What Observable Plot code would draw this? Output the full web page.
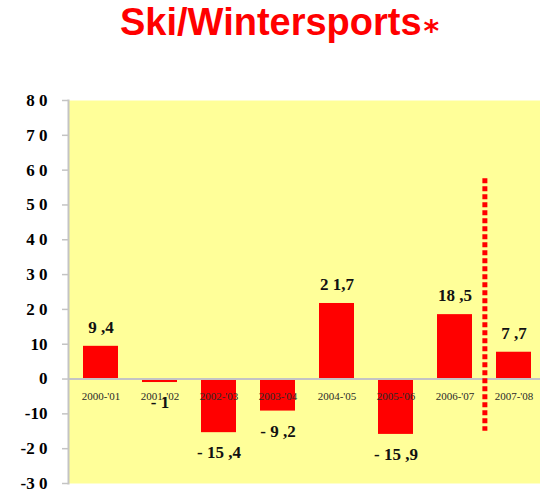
<!DOCTYPE html>
<html>
<head>
<meta charset="utf-8">
<script src="https://cdn.jsdelivr.net/npm/d3@7"></script>
<script src="https://cdn.jsdelivr.net/npm/@observablehq/plot@0.6"></script>
<style>
  html, body { margin: 0; padding: 0; background: #fff; overflow: hidden; width: 540px; height: 491px; }
  #title { height: 60px; position: relative; font-family: "Liberation Sans", Arial, sans-serif; font-weight: bold; color: #ff0000; }
  #title .main { position: absolute; left: 120px; top: 2px; font-size: 38px; line-height: 40px; white-space: nowrap; }
  #title .star { font-family: "DejaVu Sans", sans-serif; font-size: 30px; vertical-align: -6px; margin-left: 2px; }
</style>
</head>
<body>
<div id="title"><span class="main">Ski/Wintersports<span class="star">*</span></span></div>
<div id="chart"></div>
<script>
const seasons = ["2000-'01", "2001-'02", "2002-'03", "2003-'04", "2004-'05", "2005-'06", "2006-'07", "2007-'08"];
const values = [9.4, -1, -15.4, -9.2, 21.7, -15.9, 18.5, 7.7];
const valueLabels = ["9 ,4", "- 1", "- 15 ,4", "- 9 ,2", "2 1,7", "- 15 ,9", "18 ,5", "7 ,7"];
const yTicks = [-30, -20, -10, 0, 10, 20, 30, 40, 50, 60, 70, 80];
const yTickLabels = ["-3 0", "-2 0", "-10", "0", "10", "2 0", "3 0", "4 0", "5 0", "6 0", "7 0", "8 0"];
const dividerAfter = ["2006-'07"];
const dividerTop = 57.5;
const dividerBottom = -15;

const data = seasons.map((s, i) => ({season: s, value: values[i], label: valueLabels[i]}));
const serif = "'Liberation Serif', 'Times New Roman', serif";

const width = 540, marginLeft = 68, marginRight = -6;
const step = (width - marginRight - marginLeft) / seasons.length;

const chart = Plot.plot({
  width,
  height: 431,
  marginTop: 40,
  marginBottom: 8,
  marginLeft,
  marginRight,
  style: {background: "transparent", overflow: "visible"},
  x: {domain: seasons, paddingInner: 0.41, paddingOuter: 0.205, axis: null},
  y: {domain: [-30, 80], axis: null},
  marks: [
    Plot.frame({fill: "#ffff99", stroke: null}),
    Plot.frame({anchor: "left", stroke: "#c4c4c4", strokeWidth: 2}),
    Plot.axisY({
      ticks: yTicks,
      tickFormat: d => yTickLabels[yTicks.indexOf(d)],
      tickSize: 6,
      tickPadding: 15,
      stroke: "#c4c4c4",
      strokeWidth: 1.5,
      fontSize: 17,
      fontWeight: "bold",
      fontFamily: serif,
      fill: "#000",
      label: null
    }),
    Plot.barY(data, {x: "season", y: "value", fill: "#ff0000"}),
    Plot.ruleY([0], {stroke: "#c4c4c4", strokeWidth: 2}),
    Plot.text(data, {
      x: "season", y: 0, text: "season", dy: 17,
      fontSize: 11, fontFamily: serif, fill: "#2a2a2a"
    }),
    Plot.text(data.filter(d => d.value >= 0), {
      x: "season", y: "value", text: "label", dy: -19,
      fontSize: 17, fontWeight: "bold", fontFamily: serif, fill: "#111"
    }),
    Plot.text(data.filter(d => d.value < 0), {
      x: "season", y: "value", text: "label", dy: 20,
      fontSize: 17, fontWeight: "bold", fontFamily: serif, fill: "#111"
    }),
    Plot.ruleX(dividerAfter, {
      x: d => d, y1: dividerTop, y2: dividerBottom, dx: step / 2,
      stroke: "#ff0000", strokeWidth: 5, strokeDasharray: "5,3"
    })
  ]
});
document.getElementById("chart").appendChild(chart);
</script>
</body>
</html>
